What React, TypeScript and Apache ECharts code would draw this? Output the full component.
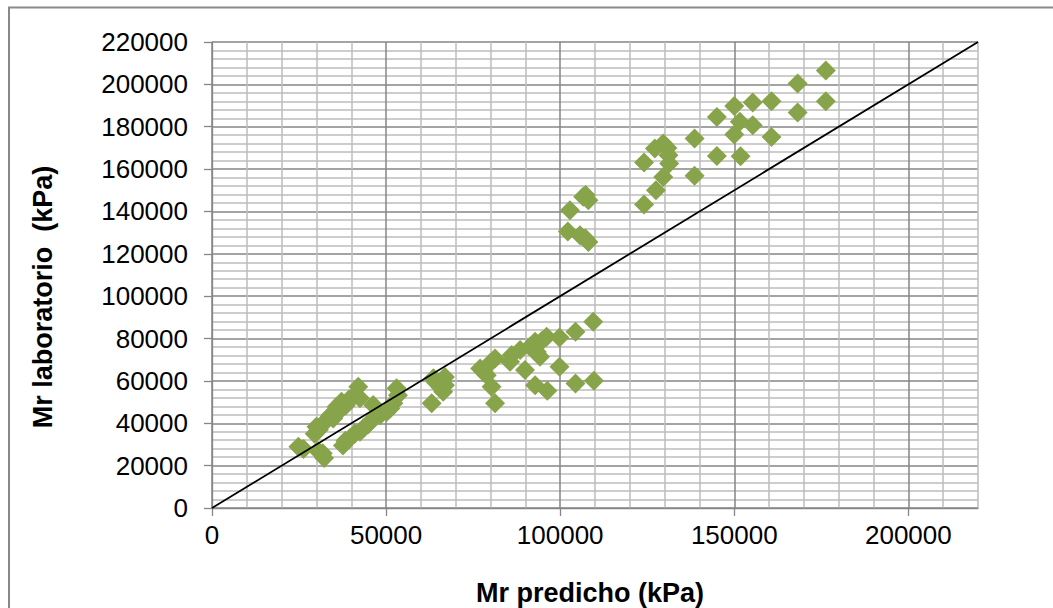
import React, { useEffect, useRef } from "react";
import * as echarts from "echarts";

// Predicted resilient modulus (kPa), one entry per specimen
const predicted = [
  // low-modulus group
  24800, 26300, 31800, 32200, 30400, 29500, 30700, 32100, 32900, 34000, 35200, 35800,
  37200, 38400, 39400, 40600, 42000, 42500, 37600, 38300, 39600, 41000, 42500, 43500,
  44800, 45900, 46300, 48300, 50200, 51200, 52100, 53000, 53400, 36800, 34800, 30000,
  // 60-70k group
  63600, 64200, 66900, 66900, 66400, 63100, 65600,
  // 75-110k group
  77000, 78000, 78900, 79800, 81300, 80300, 81300, 85600, 86100, 89900, 88500, 91300,
  92800, 94700, 94200, 93300, 96100, 99800, 99800, 104400, 109500, 92800, 96300, 104400,
  109700,
  // 100-110k predicted, high measured
  102800, 102200, 106600, 108100, 107300, 105700, 108100, 107200,
  // high-modulus group
  176300, 176300, 168200, 168200, 160700, 160700, 155300, 155300, 150000, 151600, 150000,
  151800, 145000, 145000, 138600, 138600, 129600, 127200, 131100, 131300, 124100, 129600,
  127500, 124100, 130800,
];

// Laboratory resilient modulus (kPa), same order as predicted
const measured = [
  28900, 27800, 25800, 23600, 27000, 35000, 37000, 40000, 41500, 43800, 45600, 47800,
  50200, 48400, 51400, 52500, 57200, 51800, 29500, 31800, 32900, 35000, 36000, 37600,
  39400, 41500, 48600, 43900, 45400, 47000, 49400, 56500, 53200, 46200, 42200, 38400,
  61200, 59500, 61900, 58000, 54900, 49400, 57000,
  65900, 64300, 62700, 68300, 70600, 57200, 49400, 69000, 72200, 65100, 74600, 76100,
  78500, 78800, 71400, 73600, 80800, 80500, 66700, 83200, 87900, 58000, 55300, 58800,
  60100,
  140600, 130500, 146900, 145300, 147800, 128800, 125600, 127300,
  206600, 192000, 200400, 186700, 192000, 175200, 191400, 180700, 189800, 182300, 176300,
  166100, 184600, 166200, 174400, 156800, 172100, 169700, 166500, 162600, 163100, 156300,
  150000, 143300, 170000,
];

// 1:1 reference line end points (kPa)
const identityLine = [0, 220000];

// Axis range and tick steps
const axisMax = 220000;
const xLabelStep = 50000;
const xGridStep = 10000;
const yLabelStep = 20000;
const yGridStep = 4000;
const xLabelValues = [0, 50000, 100000, 150000, 200000];

const xTitle = "Mr predicho (kPa)";
const yTitle = "Mr laboratorio  (kPa)";

const FONT = "'Liberation Sans', Arial, Helvetica, sans-serif";
const MAJOR = "#868686";
const MINOR = "#bdbdbd";
const GREEN = "#87a44a";

const plain = (v: number) => String(Math.round(v));

export default function App() {
  const ref = useRef<HTMLDivElement>(null);

  useEffect(() => {
    if (!ref.current) return;
    const chart = echarts.init(ref.current, undefined, { renderer: "svg" });

    const points = predicted.map((x, i) => [x, measured[i]]);
    const diag = identityLine.map((v) => [v, v]);

    const gridLines = (n: number) => {
      const colors = [MAJOR];
      for (let i = 1; i < n; i++) colors.push(MINOR);
      return colors;
    };

    chart.setOption({
      animation: false,
      backgroundColor: "#ffffff",
      grid: { left: 212, right: 75, top: 42, bottom: 100, containLabel: false },
      xAxis: [
        {
          type: "value",
          min: 0,
          max: axisMax,
          interval: xLabelStep,
          axisLine: { show: true, lineStyle: { color: MAJOR, width: 1.3 } },
          axisTick: { show: true, length: 8, lineStyle: { color: MAJOR, width: 1.3 }, customValues: xLabelValues },
          axisLabel: {
            customValues: xLabelValues,
            formatter: plain,
            margin: 14,
            color: "#000",
            fontSize: 26,
            fontFamily: FONT,
          },
          splitLine: { show: false },
        },
        {
          type: "value",
          min: 0,
          max: axisMax,
          interval: xGridStep,
          position: "bottom",
          axisLine: { show: false },
          axisTick: { show: false },
          axisLabel: { show: false },
          splitLine: { show: true, lineStyle: { color: gridLines(5), width: 1.5 } },
        },
      ],
      yAxis: [
        {
          type: "value",
          min: 0,
          max: axisMax,
          interval: yLabelStep,
          axisLine: { show: true, lineStyle: { color: MAJOR, width: 1.3 } },
          axisTick: { show: true, length: 8, lineStyle: { color: MAJOR, width: 1.3 } },
          axisLabel: { formatter: plain, margin: 24, color: "#000", fontSize: 26, fontFamily: FONT },
          splitLine: { show: false },
        },
        {
          type: "value",
          min: 0,
          max: axisMax,
          interval: yGridStep,
          position: "left",
          axisLine: { show: false },
          axisTick: { show: false },
          axisLabel: { show: false },
          splitLine: { show: true, lineStyle: { color: gridLines(5), width: 1.5 } },
        },
      ],
      series: [
        {
          type: "scatter",
          xAxisIndex: 0,
          yAxisIndex: 0,
          symbol: "diamond",
          symbolSize: 20,
          itemStyle: { color: GREEN, opacity: 1 },
          data: points,
          z: 3,
        },
        {
          type: "line",
          xAxisIndex: 0,
          yAxisIndex: 0,
          data: diag,
          symbol: "none",
          lineStyle: { color: "#000", width: 1.8 },
          z: 4,
        },
      ],
      graphic: [
        {
          type: "rect",
          shape: { x: 9, y: 7.5, width: 1200, height: 800 },
          style: { fill: "none", stroke: "#898989", lineWidth: 2 },
          silent: true,
        },
        {
          type: "text",
          x: 590,
          y: 593,
          style: {
            text: xTitle,
            font: `bold 27px ${FONT}`,
            fill: "#000",
            textAlign: "center",
            textVerticalAlign: "middle",
          },
        },
        {
          type: "text",
          x: 43,
          y: 297,
          rotation: Math.PI / 2,
          style: {
            text: yTitle,
            font: `bold 27px ${FONT}`,
            fill: "#000",
            textAlign: "center",
            textVerticalAlign: "middle",
          },
        },
      ],
    });

    return () => chart.dispose();
  }, []);

  return (
    <div
      ref={ref}
      style={{ position: "fixed", left: 0, top: 0, width: 1053, height: 608, background: "#fff" }}
    />
  );
}
